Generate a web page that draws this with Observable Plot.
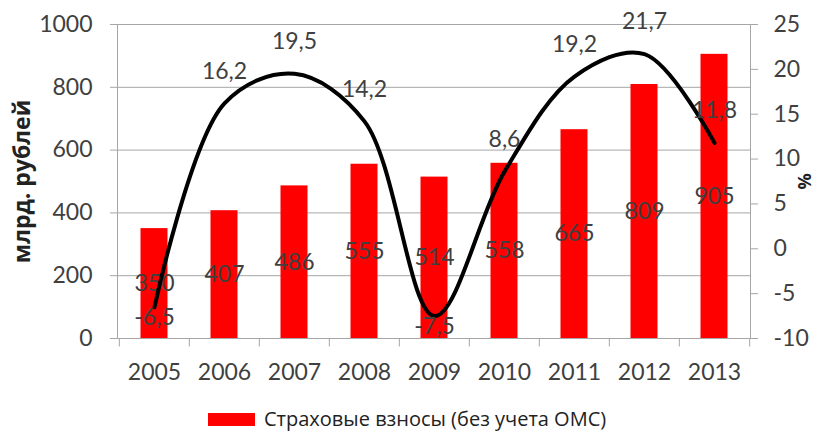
<!DOCTYPE html>
<html><head><meta charset="utf-8">
<script src="https://cdn.jsdelivr.net/npm/d3@7"></script>
<script src="https://cdn.jsdelivr.net/npm/@observablehq/plot@0.6"></script>
<style>
body{margin:0;background:#fff;width:818px;height:432px;overflow:hidden;}
#legend{position:relative;height:36px;}
#legend .sw{position:absolute;left:208px;top:17px;width:47px;height:13px;background:#ff0000;}
#legend .lb{position:absolute;left:264px;top:12px;font:20px "Open Sans",sans-serif;color:#222;white-space:nowrap;line-height:22px;}
</style></head>
<body><div id="chart"></div><div id="legend"><div class="sw"></div><div class="lb" id="lbl"></div></div>
<script>
const years = ["2005","2006","2007","2008","2009","2010","2011","2012","2013"];
const contributions = [350,407,486,555,514,558,665,809,905];
const growth = [-6.5,16.2,19.5,14.2,-7.5,8.6,19.2,21.7,11.8];
const leftTicks = [0,200,400,600,800,1000];
const rightTicks = [-10,-5,0,5,10,15,20,25];
const leftTitle = "млрд. рублей";
const rightTitle = "%";
const legendLabel = "Страховые взносы (без учета ОМС)";

const leftDomain = [0,1000], rightDomain = [-10,25];
const toLeft = v => (v - rightDomain[0]) / (rightDomain[1]-rightDomain[0]) * (leftDomain[1]-leftDomain[0]) + leftDomain[0];
const toRight = v => (v - leftDomain[0]) / (leftDomain[1]-leftDomain[0]) * (rightDomain[1]-rightDomain[0]) + rightDomain[0];
const rows = years.map((year,i)=>({year, value: contributions[i], growth: growth[i]}));
const fmt = v => String(v).replace(".", ",");

const W = 818, H = 396, mL = 117, mR = 68, mT = 24, mB = 58;
const step = (W - mL - mR) / years.length;
const grid = "#a6a6a6", txt = "#404040";

const chart = Plot.plot({
  width: W, height: H,
  marginLeft: mL, marginRight: mR, marginTop: mT, marginBottom: mB,
  style: {fontFamily: "Lato, sans-serif", fontSize: "23px", background: "#fff", overflow: "visible"},
  x: {type: "band", domain: years, padding: 0, label: null},
  y: {domain: leftDomain, label: null},
  marks: [
    Plot.gridY(leftTicks, {stroke: grid, strokeOpacity: 1}),
    Plot.frame({stroke: grid}),
    Plot.barY(rows, {x: "year", y: "value", fill: "#ff0000", insetLeft: 21.5, insetRight: 21.5}),
    Plot.text(rows, {x: "year", y: d => d.value / 2, text: d => String(d.value), fill: txt}),
    Plot.line(rows, {x: "year", y: d => toLeft(d.growth), curve: "catmull-rom", stroke: "#000", strokeWidth: 4}),
    Plot.text(rows.filter(d => d.growth >= 0), {x: "year", y: d => toLeft(d.growth), text: d => fmt(d.growth), dy: -32, fill: txt}),
    Plot.text(rows.filter(d => d.growth < 0), {x: "year", y: d => toLeft(d.growth), text: d => fmt(d.growth), dy: 11, fill: txt}),
    Plot.axisY(leftTicks, {anchor: "left", tickSize: 7, tickPadding: 18, stroke: grid, fill: txt, tickFormat: d => String(d), label: null}),
    Plot.axisY(rightTicks.map(toLeft), {anchor: "right", tickSize: 7, tickPadding: 16, stroke: grid, fill: txt, tickFormat: d => String(Math.round(toRight(d))), label: null}),
    Plot.axisX({tickSize: 0, tickPadding: 25, fill: txt, label: null}),
    Plot.ruleX(years, {x: d => d, y1: 0, y2: -27, dx: -step/2, stroke: grid}),
    Plot.ruleX(years.slice(-1), {x: d => d, y1: 0, y2: -27, dx: step/2, stroke: grid}),
    Plot.text([leftTitle], {frameAnchor: "left", textAnchor: "middle", rotate: -90, dx: -95, fontWeight: "bold", fontSize: 23, fill: "#222", fontFamily: "'Open Sans', sans-serif"}),
    Plot.text([rightTitle], {frameAnchor: "right", textAnchor: "middle", rotate: -90, dx: 55, fontWeight: "bold", fontSize: 18, fill: "#222", fontFamily: "'Open Sans', sans-serif"})
  ]
});
document.getElementById("chart").appendChild(chart);
document.getElementById("lbl").textContent = legendLabel;
</script>
</body></html>
